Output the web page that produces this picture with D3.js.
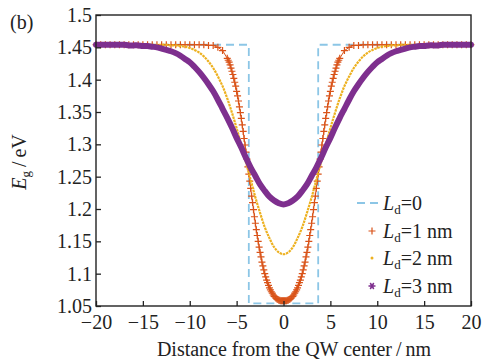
<!DOCTYPE html>
<html lang="en">
<head>
<meta charset="utf-8" />
<title>Eg profile vs distance</title>
<script src="https://cdn.jsdelivr.net/npm/d3@7"></script>
<style>
  body { margin: 0; background: white; }
</style>
</head>
<body>
<script>

// legend labels, in plot order
var seriesNames = ["=0", "=1 nm", "=2 nm", "=3 nm"];

// L_d = 0 : abrupt well
var stepX = [-20, -3.7, -3.7, 3.7, 3.7, 20];
var stepY = [1.454, 1.454, 1.054, 1.054, 1.454, 1.454];

// L_d = 1 nm (dense sampling in the middle)
var redX = d3.range(-200, -60, 5).map(function(v) { return v / 10; })
  .concat(d3.range(-60, 61, 1).map(function(v) { return v / 10; }))
  .concat(d3.range(65, 201, 5).map(function(v) { return v / 10; }));
var redY = [
  1.454,1.454,1.454,1.454,1.454,1.454,1.454,1.454,1.454,1.454,1.454,1.454,
  1.454,1.454,1.454,1.454,1.454,1.454,1.454,1.454,1.454,1.454,1.454,1.454,
  1.453,1.453,1.450,1.445,
  1.433,1.430,1.427,1.423,1.418,1.413,1.408,1.402,1.396,1.390,
  1.382,1.375,1.367,1.358,1.349,1.340,1.330,1.320,1.309,1.299,
  1.288,1.277,1.265,1.254,1.243,1.232,1.220,1.210,1.199,1.188,
  1.178,1.168,1.159,1.150,1.141,1.133,1.126,1.118,1.112,1.106,
  1.100,1.095,1.090,1.086,1.082,1.078,1.075,1.072,1.070,1.067,
  1.065,1.064,1.062,1.061,1.060,1.059,1.059,1.058,1.058,1.058,
  1.058,
  1.058,1.058,1.058,1.059,1.059,1.060,1.061,1.062,1.064,
  1.065,1.067,1.070,1.072,1.075,1.078,1.082,1.086,1.090,1.095,
  1.100,1.106,1.112,1.118,1.126,1.133,1.141,1.150,1.159,1.168,
  1.178,1.188,1.199,1.210,1.220,1.232,1.243,1.254,1.265,1.277,
  1.288,1.299,1.309,1.320,1.330,1.340,1.349,1.358,1.367,1.375,
  1.382,1.390,1.396,1.402,1.408,1.413,1.418,1.423,1.427,1.430,
  1.433,
  1.445,1.450,1.453,1.453,
  1.454,1.454,1.454,1.454,1.454,1.454,1.454,1.454,1.454,1.454,1.454,1.454,
  1.454,1.454,1.454,1.454,1.454,1.454,1.454,1.454,1.454,1.454,1.454,1.454
];

// L_d = 2 nm and 3 nm, every 0.5 nm
var gridX = d3.range(-40, 41).map(function(v) { return v / 2; });
var orangeY = [
  1.454,1.454,1.454,1.454,1.454,1.454,1.454,1.454,1.454,1.454,1.454,1.454,
  1.454,1.454,1.454,1.454,
  1.453,1.453,1.452,1.451,1.449,1.446,1.442,1.436,1.428,1.418,1.405,1.390,
  1.371,1.349,1.325,1.299,1.272,1.245,1.218,1.194,1.172,1.155,1.141,1.133,
  1.130,
  1.133,1.141,1.155,1.172,1.194,1.218,1.245,1.272,1.299,1.325,1.349,1.371,
  1.390,1.405,1.418,1.428,1.436,1.442,1.446,1.449,1.451,1.452,1.453,1.453,
  1.454,1.454,1.454,1.454,1.454,1.454,1.454,1.454,1.454,1.454,1.454,1.454,
  1.454,1.454,1.454,1.454
];
var purpleY = [
  1.454,1.454,1.454,1.454,1.454,1.454,1.454,
  1.453,1.453,1.453,1.452,1.452,1.451,1.450,1.448,1.446,1.444,1.441,1.437,
  1.432,1.427,1.420,1.412,1.403,1.393,1.382,1.369,1.355,1.341,1.326,1.310,
  1.295,1.279,1.264,1.251,1.238,1.228,1.219,1.213,1.209,
  1.207,
  1.209,1.213,1.219,1.228,1.238,1.251,1.264,1.279,1.295,1.310,1.326,1.341,
  1.355,1.369,1.382,1.393,1.403,1.412,1.420,1.427,1.432,1.437,1.441,1.444,
  1.446,1.448,1.450,1.451,1.452,1.452,1.453,1.453,1.453,
  1.454,1.454,1.454,1.454,1.454,1.454,1.454
];

var xTicks = [-20, -15, -10, -5, 0, 5, 10, 15, 20];
var yTicks = [1.05, 1.1, 1.15, 1.2, 1.25, 1.3, 1.35, 1.4, 1.45, 1.5];

var w = 483;
var h = 361;
var pad = {left: 96, right: 12, top: 15, bottom: 55};
var colors = ["#8cc6e6", "#d95319", "#edb120", "#7e2f8e"];
var serif = "'Liberation Serif'";
var ink = "#222";

var svg = d3.select("body")
            .append("svg")
            .attr("width", w)
            .attr("height", h);

var xScale = d3.scaleLinear()
               .domain([-20, 20])
               .range([pad.left, w - pad.right]);
var yScale = d3.scaleLinear()
               .domain([1.05, 1.5])
               .range([h - pad.bottom, pad.top]);

var line = d3.line()
             .x(function(d) { return xScale(d[0]); })
             .y(function(d) { return yScale(d[1]); });
var smooth = d3.line()
               .curve(d3.curveCatmullRom)
               .x(function(d) { return xScale(d[0]); })
               .y(function(d) { return yScale(d[1]); });

var plus = "M-3.5,0H3.5M0,-3.5V3.5";
var star = "M-3.5,0H3.5M-1.75,-3L1.75,3M-1.75,3L1.75,-3";

// L_d = 0
svg.append("path")
   .datum(d3.zip(stepX, stepY))
   .attr("d", line)
   .attr("fill", "none")
   .attr("stroke", colors[0])
   .attr("stroke-width", 1.8)
   .attr("stroke-dasharray", "8,5");

// L_d = 1 nm
var red = d3.zip(redX, redY);
svg.append("path")
   .datum(red)
   .attr("d", line)
   .attr("fill", "none")
   .attr("stroke", colors[1])
   .attr("stroke-width", 1);
svg.append("g")
   .selectAll("path")
   .data(red)
   .enter()
   .append("path")
   .attr("transform", function(d) { return "translate(" + xScale(d[0]) + "," + yScale(d[1]) + ")"; })
   .attr("d", plus)
   .attr("stroke", colors[1])
   .attr("stroke-width", 1.2);

// L_d = 2 nm
svg.append("path")
   .datum(d3.zip(gridX, orangeY))
   .attr("d", smooth)
   .attr("fill", "none")
   .attr("stroke", colors[2])
   .attr("stroke-width", 2.2)
   .attr("stroke-dasharray", "2.5,0.8");

// L_d = 3 nm
svg.append("path")
   .datum(d3.zip(gridX, purpleY))
   .attr("d", smooth)
   .attr("fill", "none")
   .attr("stroke", colors[3])
   .attr("stroke-width", 6)
   .attr("stroke-linecap", "round");

// axes
var xAxis = d3.axisBottom(xScale)
              .tickValues(xTicks)
              .tickSize(-5)
              .tickPadding(9)
              .tickFormat(d3.format("d"));
var yAxis = d3.axisLeft(yScale)
              .tickValues(yTicks)
              .tickSize(-5)
              .tickPadding(4)
              .tickFormat(d3.format("~g"));
var gx = svg.append("g")
   .attr("transform", "translate(0," + (h - pad.bottom) + ")")
   .call(xAxis);
var gy = svg.append("g")
   .attr("transform", "translate(" + pad.left + ",0)")
   .call(yAxis);
[gx, gy].forEach(function(g) {
  g.attr("font-family", null).attr("font-size", null);
  g.select(".domain").remove();
  g.selectAll(".tick line").attr("stroke", ink).attr("stroke-width", 1.3);
  g.selectAll(".tick text")
   .attr("fill", ink)
   .style("font-family", serif)
   .style("font-size", "20px");
});

svg.append("rect")
   .attr("x", pad.left)
   .attr("y", pad.top)
   .attr("width", w - pad.left - pad.right)
   .attr("height", h - pad.top - pad.bottom)
   .attr("fill", "none")
   .attr("stroke", ink)
   .attr("stroke-width", 1.4);

function label(x, y) {
  return svg.append("text")
            .attr("x", x)
            .attr("y", y)
            .attr("fill", ink)
            .style("font-family", serif)
            .style("font-size", "20px");
}

// titles
label(10, 29).text("(b)");

label(294, 356)
   .attr("text-anchor", "middle")
   .text("Distance from the QW center\u2009/\u2009nm");

var yl = label(0, 0)
   .attr("transform", "translate(26,162) rotate(-90)")
   .attr("text-anchor", "middle");
yl.append("tspan").style("font-style", "italic").text("E");
yl.append("tspan").style("font-size", "13px").attr("dy", 4).text("g");
yl.append("tspan").attr("dy", -4).text("\u2009/\u2009eV");

// legend
var legY = [203, 231, 258, 286];
var lx = 372;
svg.append("line")
   .attr("x1", lx - 15).attr("x2", lx + 9)
   .attr("y1", legY[0]).attr("y2", legY[0])
   .attr("stroke", colors[0])
   .attr("stroke-width", 1.8)
   .attr("stroke-dasharray", "8,5");
svg.append("path")
   .attr("transform", "translate(" + lx + "," + legY[1] + ")")
   .attr("d", plus)
   .attr("stroke", colors[1])
   .attr("stroke-width", 1.2);
svg.append("circle")
   .attr("cx", lx).attr("cy", legY[2]).attr("r", 1.5)
   .attr("fill", colors[2]);
svg.append("path")
   .attr("transform", "translate(" + lx + "," + legY[3] + ")")
   .attr("d", star)
   .attr("stroke", colors[3])
   .attr("stroke-width", 1.5);

seriesNames.forEach(function(name, i) {
  var t = label(lx + 11, legY[i] + 7);
  t.append("tspan").style("font-style", "italic").text("L");
  t.append("tspan").style("font-size", "13px").attr("dy", 4).text("d");
  t.append("tspan").attr("dy", -4).text(name);
});

</script>
</body>
</html>
